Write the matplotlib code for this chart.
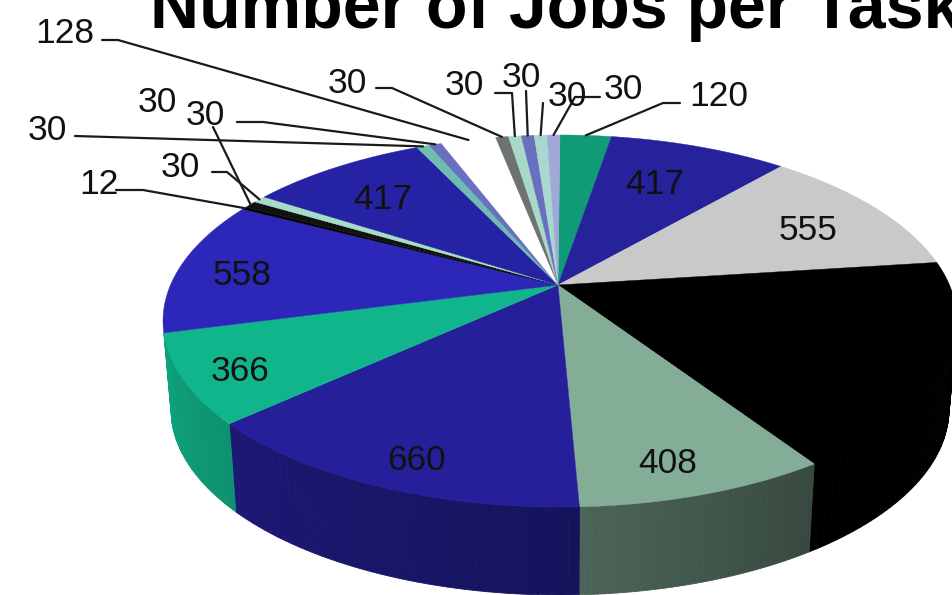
import numpy as np
import matplotlib
matplotlib.use('Agg')
import matplotlib.pyplot as plt
from matplotlib.patches import Polygon
from matplotlib.colors import to_rgb

# jobs per task, clockwise from twelve o'clock
jobs = [120, 417, 555, 850, 408, 660, 366, 558, 12, 30, 30, 417, 30, 30, 128, 30, 30, 30, 30, 30]
tops = ['#0f9a78', '#25229c', '#c9c9c9', '#000000', '#84ad98', '#25209a', '#10b58c', '#2c27b8',
        '#000000', '#111111', '#a5dcc8', '#2522a4', '#6fbcb0', '#6a70c0', '#ffffff',
        '#6f736f', '#a8d8c8', '#6a70c0', '#a8d8d0', '#a0a8d8']
title = 'Number of Jobs per Task'

# (text, x, y) in pixels
inner_labels = [('417', 655, 182), ('555', 808, 228), ('408', 668, 461),
                ('660', 417, 458), ('366', 240, 369), ('558', 242, 273), ('417', 383, 197)]
outer_labels = [('128', 65, 31), ('30', 47, 128), ('30', 157, 100), ('30', 205, 113),
                ('30', 180, 165), ('12', 99, 182), ('30', 347, 81), ('30', 464, 83),
                ('30', 521, 75), ('30', 567, 94), ('30', 623, 87), ('120', 719, 94)]
# slice index and the start of its leader line
leaders = [(14, [(102, 40), (118, 40)]),
           (12, [(75, 136)]),
           (13, [(237, 122), (263, 122)]),
           (9, [(213, 127)]),
           (10, [(212, 172), (227, 172)]),
           (8, [(116, 190), (143, 190)]),
           (15, [(376, 88), (392, 88)]),
           (16, [(495, 93), (512, 93)]),
           (17, [(526, 91)]),
           (18, [(543, 103)]),
           (19, [(600, 97), (575, 97)]),
           (0, [(680, 103), (663, 103)])]
# wall shade at the start and end of a slice, clockwise
wall_shade = {3: (1, 1), 4: (0.42, 0.58), 5: (0.60, 0.76), 6: (0.80, 0.90)}

# projected circle: k sets the perspective
k = 0.1935
cx, cy = 558, 285
A = -123.9
bx = 389.5
depth = 88
shrink = 0.98
wall_from, wall_to = np.radians(101), np.radians(256)


def rim(theta):
    u, v = np.sin(theta), np.cos(theta)
    w = 1 + k * v
    return cx + 2 + bx * u / w, (A * v + cy) / w


def lower(theta):
    x, y = rim(theta)
    return cx + 2 + (x - cx - 2) * shrink, y + depth


def shade(color, f):
    return tuple(c * f for c in to_rgb(color))


fig = plt.figure(figsize=(9.52, 5.95), dpi=100)
ax = fig.add_axes([0, 0, 1, 1])
ax.set_xlim(0, 952)
ax.set_ylim(595, 0)
ax.axis('off')

edges = np.cumsum([0] + jobs) / sum(jobs) * 2 * np.pi

# side wall first, only the part facing us
for i, (f0, f1) in wall_shade.items():
    start = max(edges[i], wall_from)
    end = min(edges[i + 1], wall_to)
    steps = np.linspace(start, end, 41)
    for j in range(40):
        t = np.linspace(steps[j], steps[j + 1], 3)
        tx, ty = rim(t)
        lx, ly = lower(t)
        pts = np.column_stack([np.r_[tx, lx[::-1]], np.r_[ty, ly[::-1]]])
        c = shade(tops[i], f0 + (f1 - f0) * j / 39)
        ax.add_patch(Polygon(pts, closed=True, fc=c, ec=c, lw=0.6))

# top face
for i in range(len(jobs)):
    t = np.linspace(edges[i], edges[i + 1], 60)
    x, y = rim(t)
    pts = np.column_stack([np.r_[cx, x], np.r_[cy, y]])
    ax.add_patch(Polygon(pts, closed=True, fc=tops[i], ec=tops[i], lw=0.3))

# leader lines run out to the middle of their slice
for i, start in leaders:
    mx, my = rim((edges[i] + edges[i + 1]) / 2)
    xs = [p[0] for p in start] + [mx]
    ys = [p[1] for p in start] + [my]
    ax.plot(xs, ys, color='#1a1a1a', lw=1.6, solid_capstyle='round')

font = 'Liberation Sans'
for s, x, y in inner_labels + outer_labels:
    ax.text(x, y + 2.5, s, family=font, fontsize=25.5, color='#111111', ha='center', va='center')

ax.text(150, 28, title, family=font, fontsize=49, fontweight='bold', color='black',
        ha='left', va='baseline')

fig.savefig('out.png', dpi=100)
